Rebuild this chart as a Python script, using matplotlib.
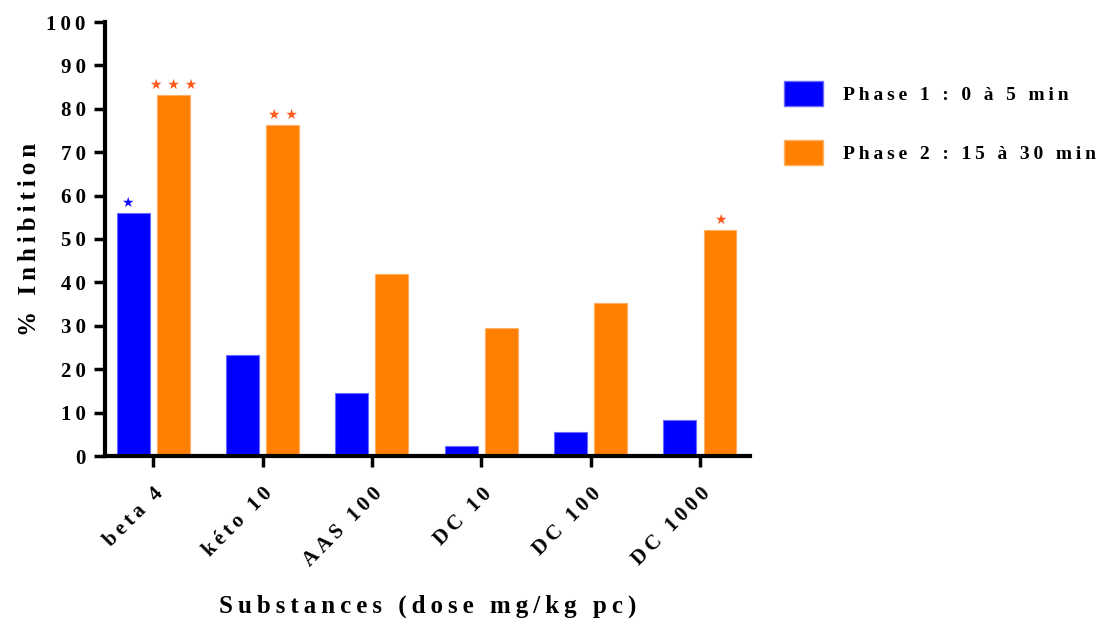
import numpy as np
import matplotlib.pyplot as plt
from matplotlib.patches import Patch

# data
substances = ['beta 4', 'kéto 10', 'AAS 100', 'DC 10', 'DC 100', 'DC 1000']
phase1 = [56.0, 23.2, 14.5, 2.4, 5.5, 8.3]
phase2 = [83.2, 76.2, 42.0, 29.5, 35.3, 52.0]
stars1 = ['*', '', '', '', '', '']
stars2 = ['***', '**', '', '', '', '*']
series_names = ['Phase 1 : 0 à 5 min', 'Phase 2 : 15 à 30 min']


def spaced(s):
    # letter spacing like in the original figure
    return '\u2009'.join(s)


plt.rcParams['font.family'] = ['Liberation Serif', 'DejaVu Serif']
plt.rcParams['font.weight'] = 'bold'

fig = plt.figure(figsize=(11, 6.25), dpi=100)
ax = fig.add_axes([0.0955, 0.2704, 0.5865, 0.6944])

x = np.arange(len(substances))
w = 0.30
off = 0.183
blue = '#0000FF'
orange = '#FF8000'
ax.bar(x - off, phase1, w, color=blue, edgecolor='#6a6aff', linewidth=0.8)
ax.bar(x + off, phase2, w, color=orange, edgecolor='#ffb066', linewidth=0.8)

# significance stars
for xi, v, s in zip(x - off, phase1, stars1):
    if s:
        ax.text(xi - 0.05, v + 0.8, ' '.join('★' * len(s)), ha='center', va='bottom',
                color='#1010ff', fontsize=10, family='DejaVu Sans')
for xi, v, s in zip(x + off, phase2, stars2):
    if s:
        ax.text(xi, v + 0.8, ' '.join('★' * len(s)), ha='center', va='bottom',
                color='#ff5a1e', fontsize=10, family='DejaVu Sans')

ax.set_ylim(0, 100)
ax.set_xlim(-0.44, 5.46)
ax.set_yticks(np.arange(0, 101, 10))
ax.set_yticklabels([spaced(str(t)) for t in range(0, 101, 10)], fontsize=15,
                   fontweight='bold')
ax.set_xticks(x)
ax.set_xticklabels([spaced(s) for s in substances], rotation=45, ha='right',
                   rotation_mode='anchor', fontsize=15, fontweight='bold')
ax.tick_params(axis='both', direction='out', length=8, width=2.5, pad=6)
ax.tick_params(axis='x', pad=12)

for side in ['top', 'right']:
    ax.spines[side].set_visible(False)
ax.spines['left'].set_linewidth(3)
ax.spines['bottom'].set_linewidth(3)

ax.set_ylabel(spaced('% Inhibition'), fontsize=18, fontweight='bold', labelpad=4)
ax.set_xlabel(spaced('Substances (dose mg/kg pc)'), fontsize=18, fontweight='bold',
              labelpad=17)

handles = [Patch(facecolor=blue, edgecolor='#6a6aff'),
           Patch(facecolor=orange, edgecolor='#ffb066')]
fig.legend(handles, [spaced(n) for n in series_names], loc='upper left',
           bbox_to_anchor=(0.697, 0.898), frameon=False,
           handlelength=2.0, handleheight=1.6, labelspacing=1.75,
           handletextpad=1.0, prop={'weight': 'bold', 'size': 14})

fig.savefig('out.png', dpi=100)
